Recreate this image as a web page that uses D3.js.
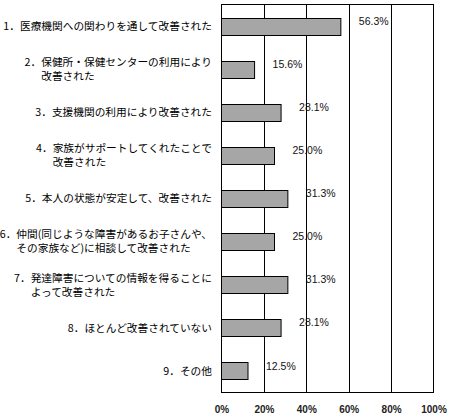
<!DOCTYPE html>
<html><head><meta charset="utf-8">
<script src="https://cdn.jsdelivr.net/npm/d3@7"></script>
<style>
html,body{margin:0;padding:0;background:#fff;}
svg{display:block;}
</style></head>
<body>
<svg id="chart" width="449" height="418"></svg>
<script>
// ---- data ----
const prefixes = ["1．","2．","3．","4．","5．","6．","7．","8．","9．"];
const labelLine1 = [
  "医療機関への関わりを通して改善された",
  "保健所・保健センターの利用により",
  "支援機関の利用により改善された",
  "家族がサポートしてくれたことで",
  "本人の状態が安定して、改善された",
  "仲間(同じような障害があるお子さんや、",
  "発達障害についての情報を得ることに",
  "ほとんど改善されていない",
  "その他"
];
const labelLine2 = [
  "",
  "改善された",
  "",
  "改善された",
  "",
  "その家族など)に相談して改善された",
  "よって改善された",
  "",
  ""
];
const values = [56.3, 15.6, 28.1, 25.0, 31.3, 25.0, 31.3, 28.1, 12.5];
const tickValues = [0, 20, 40, 60, 80, 100];

(function () {
// ---- layout ----
const svg = d3.select("#chart");
const pLeft = 221.5, pRight = 433.5, pTop = 4.5, pBottom = 392.5;
const jpFont = "'Noto Sans CJK JP','Noto Sans',sans-serif";
const numFont = "'Liberation Sans',Arial,sans-serif";

const x = d3.scaleLinear().domain([0, 100]).range([pLeft, pRight]);
const idx = d3.range(values.length);
const y = d3.scaleBand().domain(idx).range([pTop, pBottom])
  .paddingInner(0.605).paddingOuter(0.3025);

// plot background
svg.append("rect").attr("x", pLeft).attr("y", pTop)
  .attr("width", pRight - pLeft).attr("height", pBottom - pTop)
  .attr("fill", "#fff");

// gridlines
svg.append("g").selectAll("line").data(tickValues.slice(1, -1)).join("line")
  .attr("x1", d => Math.round(x(d)) + 0.5).attr("x2", d => Math.round(x(d)) + 0.5)
  .attr("y1", pTop).attr("y2", pBottom)
  .attr("stroke", "#000").attr("stroke-width", 1);

// bars
svg.append("g").selectAll("rect").data(idx).join("rect")
  .attr("x", x(0))
  .attr("y", i => Math.round(y(i)) + 0.5)
  .attr("width", i => x(values[i]) - x(0))
  .attr("height", Math.round(y.bandwidth()))
  .attr("fill", "#a6a6a6")
  .attr("stroke", "#000").attr("stroke-width", 1);

// plot border
svg.append("rect").attr("x", pLeft).attr("y", pTop)
  .attr("width", pRight - pLeft).attr("height", pBottom - pTop)
  .attr("fill", "none").attr("stroke", "#000").attr("stroke-width", 1);

// value labels
svg.append("g").selectAll("text").data(idx).join("text")
  .attr("x", i => x(values[i]) + 18)
  .attr("y", i => y(i) + 3.5)
  .attr("dy", "0.35em")
  .attr("font-family", numFont).attr("font-size", "10.5px")
  .attr("fill", "#111")
  .text(i => values[i].toFixed(1) + "%");

// x axis tick labels
const xAxis = d3.axisBottom(x).tickValues(tickValues)
  .tickFormat(d => d + "%").tickSize(0).tickPadding(0);
const ax = svg.append("g").attr("transform", `translate(0,${pBottom + 13})`).call(xAxis);
ax.select(".domain").remove();
ax.selectAll("text").attr("font-family", numFont).attr("font-size", "10px")
  .attr("fill", "#222").attr("font-weight", "bold").attr("dy", "0.71em");

// category labels
const labelRight = 212;
const fs = 10.7;
const cat = svg.append("g");
idx.forEach(i => {
  const cy = y(i) + y.bandwidth() / 2;
  const two = labelLine2[i] !== "";
  const t1 = cat.append("text")
    .attr("font-family", jpFont).attr("font-size", fs + "px").attr("fill", "#000")
    .attr("x", labelRight).attr("text-anchor", "end")
    .attr("y", two ? cy - 7 : cy).attr("dy", "0.36em");
  t1.append("tspan").text(prefixes[i]);
  t1.append("tspan").text(labelLine1[i]);
  if (two) {
    const w = t1.node().getComputedTextLength();
    const pw = t1.select("tspan").node().getComputedTextLength();
    cat.append("text")
      .attr("font-family", jpFont).attr("font-size", fs + "px").attr("fill", "#000")
      .attr("x", labelRight - w + pw).attr("text-anchor", "start")
      .attr("y", cy + 7).attr("dy", "0.36em")
      .text(labelLine2[i]);
  }
});
})();
</script>
</body></html>
